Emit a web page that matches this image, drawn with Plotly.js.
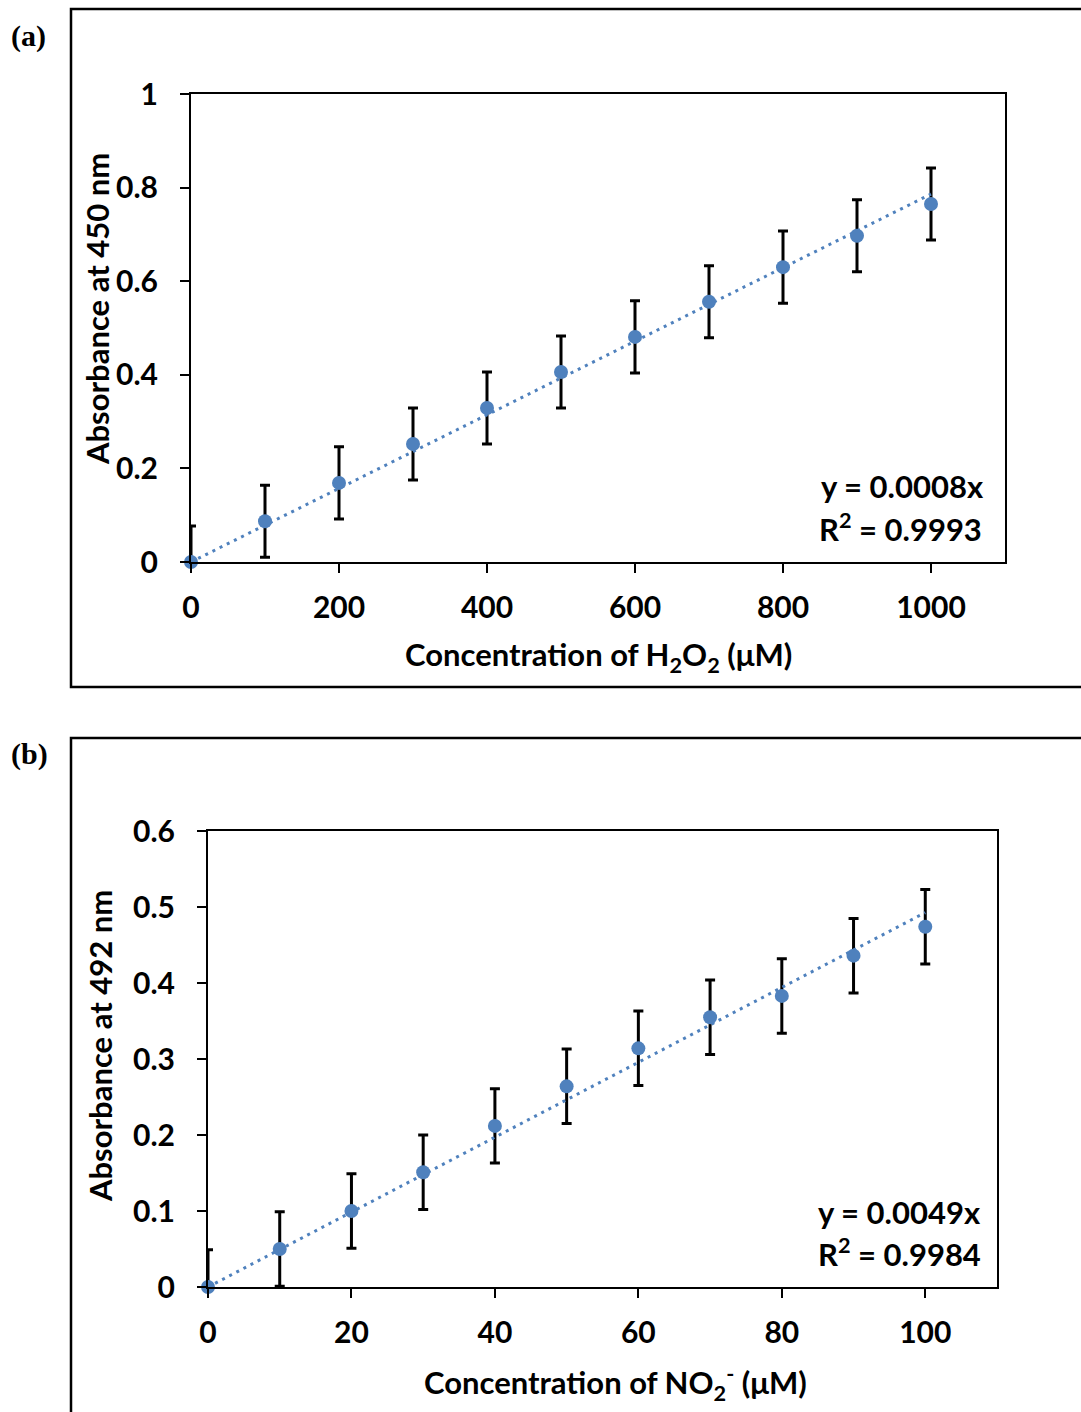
<!DOCTYPE html>
<html>
<head>
<meta charset="utf-8">
<script src="https://cdn.plot.ly/plotly-3.0.1.min.js"></script>
<style>html,body{margin:0;padding:0;background:#fff;}#chart{width:1081px;height:1412px;}</style>
</head>
<body>
<div id="chart"></div>
<script>
// Panel (a): H2O2
const concA = [0, 100, 200, 300, 400, 500, 600, 700, 800, 900, 1000];
const absA  = [0, 0.087, 0.169, 0.252, 0.329, 0.406, 0.481, 0.556, 0.630, 0.697, 0.765];
const errA  = [0.077, 0.077, 0.077, 0.077, 0.077, 0.077, 0.077, 0.077, 0.077, 0.077, 0.077];
const eqA = "y = 0.0008x";
const r2A = "R<sup>2</sup> = 0.9993";
const xTitleA = "Concentration of H<sub>2</sub>O<sub>2</sub> (μM)";
const yTitleA = "Absorbance at 450 nm";

// Panel (b): NO2-
const concB = [0, 10, 20, 30, 40, 50, 60, 70, 80, 90, 100];
const absB  = [0, 0.050, 0.100, 0.151, 0.212, 0.264, 0.314, 0.355, 0.383, 0.436, 0.474];
const errB  = [0.049, 0.049, 0.049, 0.049, 0.049, 0.049, 0.049, 0.049, 0.049, 0.049, 0.049];
const eqB = "y = 0.0049x";
const r2B = "R<sup>2</sup> = 0.9984";
const xTitleB = "Concentration of NO<sub>2</sub><sup>-</sup> (μM)";
const yTitleB = "Absorbance at 492 nm";

const W = 1081, H = 1412;
const px = v => v / W;
const py = v => 1 - v / H;

// least squares through origin (trendline)
function slopeThroughOrigin(xs, ys) {
  let sxy = 0, sxx = 0;
  for (let i = 0; i < xs.length; i++) { sxy += xs[i] * ys[i]; sxx += xs[i] * xs[i]; }
  return sxy / sxx;
}
const kA = slopeThroughOrigin(concA, absA);
const kB = slopeThroughOrigin(concB, absB);
const xmaxA = Math.max(...concA), xmaxB = Math.max(...concB);

const blue = '#4f81bd';
const FONT = 'Lato, "Open Sans", sans-serif';
const TF = { family: FONT, size: 31, color: '#000', weight: 700 };

function traces(xs, ys, errs, k, xmax, xa, ya) {
  return [
    { x: xs, y: ys, xaxis: xa, yaxis: ya, type: 'scatter', mode: 'markers',
      marker: { size: 0.1, color: 'rgba(0,0,0,0)' }, cliponaxis: true, hoverinfo: 'skip',
      error_y: { type: 'data', array: errs, visible: true, color: '#000', thickness: 3, width: 5 } },
    { x: [0, xmax], y: [0, k * xmax], xaxis: xa, yaxis: ya, type: 'scatter', mode: 'lines',
      line: { color: blue, width: 3, dash: '3px,5px' }, cliponaxis: false },
    { x: xs, y: ys, xaxis: xa, yaxis: ya, type: 'scatter', mode: 'markers',
      marker: { size: 14, color: blue }, cliponaxis: false }
  ];
}

const data = [
  ...traces(concA, absA, errA, kA, xmaxA, 'x', 'y'),
  ...traces(concB, absB, errB, kB, xmaxB, 'x2', 'y2')
];

const axCommon = {
  showline: true, linecolor: '#000', linewidth: 2, mirror: true,
  ticks: 'outside', ticklen: 9, tickwidth: 2, tickcolor: '#000',
  showgrid: false, zeroline: false,
  tickfont: { family: FONT, size: 30, color: '#000', weight: 700 }
};

const layout = {
  width: W, height: H, showlegend: false,
  margin: { l: 0, r: 0, t: 0, b: 0 },
  paper_bgcolor: '#fff', plot_bgcolor: '#fff',
  xaxis: Object.assign({}, axCommon, { domain: [px(191), px(1005)], range: [0, 1100], dtick: 200, tick0: 0, anchor: 'y', ticklabelstandoff: 9 }),
  yaxis: Object.assign({}, axCommon, { domain: [py(562), py(94)], range: [0, 1], dtick: 0.2, tick0: 0, anchor: 'x', ticklabelstandoff: 16 }),
  xaxis2: Object.assign({}, axCommon, { domain: [px(208), px(997)], range: [0, 110], dtick: 20, tick0: 0, anchor: 'y2', ticklabelstandoff: 9 }),
  yaxis2: Object.assign({}, axCommon, { domain: [py(1287), py(831)], range: [0, 0.6], dtick: 0.1, tick0: 0, anchor: 'x2', ticklabelstandoff: 16 }),
  shapes: [
    { type: 'rect', xref: 'paper', yref: 'paper', x0: px(71), x1: px(1100), y0: py(687), y1: py(9), line: { color: '#000', width: 2.5 } },
    { type: 'rect', xref: 'paper', yref: 'paper', x0: px(71), x1: px(1100), y0: py(1430), y1: py(738), line: { color: '#000', width: 2.5 } }
  ],
  annotations: [
    { text: '(a)', xref: 'paper', yref: 'paper', x: px(9), y: py(36), xanchor: 'left', yanchor: 'middle', showarrow: false,
      font: { family: '"Liberation Serif", "Times New Roman", serif', size: 30, color: '#000', weight: 700 } },
    { text: '(b)', xref: 'paper', yref: 'paper', x: px(9), y: py(754), xanchor: 'left', yanchor: 'middle', showarrow: false,
      font: { family: '"Liberation Serif", "Times New Roman", serif', size: 30, color: '#000', weight: 700 } },
    { text: xTitleA, xref: 'paper', yref: 'paper', x: px(598), y: py(656), xanchor: 'center', yanchor: 'middle', showarrow: false, font: TF },
    { text: yTitleA, xref: 'paper', yref: 'paper', x: px(97), y: py(309), textangle: -90, xanchor: 'center', yanchor: 'middle', showarrow: false, font: TF },
    { text: xTitleB, xref: 'paper', yref: 'paper', x: px(615), y: py(1383), xanchor: 'center', yanchor: 'middle', showarrow: false, font: TF },
    { text: yTitleB, xref: 'paper', yref: 'paper', x: px(100), y: py(1046), textangle: -90, xanchor: 'center', yanchor: 'middle', showarrow: false, font: TF },
    { text: eqA, xref: 'paper', yref: 'paper', x: px(986), y: py(486), xanchor: 'right', yanchor: 'middle', showarrow: false, font: TF },
    { text: r2A, xref: 'paper', yref: 'paper', x: px(984), y: py(527), xanchor: 'right', yanchor: 'middle', showarrow: false, font: TF },
    { text: eqB, xref: 'paper', yref: 'paper', x: px(983), y: py(1212), xanchor: 'right', yanchor: 'middle', showarrow: false, font: TF },
    { text: r2B, xref: 'paper', yref: 'paper', x: px(983), y: py(1252), xanchor: 'right', yanchor: 'middle', showarrow: false, font: TF }
  ]
};

Plotly.newPlot('chart', data, layout, { staticPlot: true, displayModeBar: false });
</script>
</body>
</html>
